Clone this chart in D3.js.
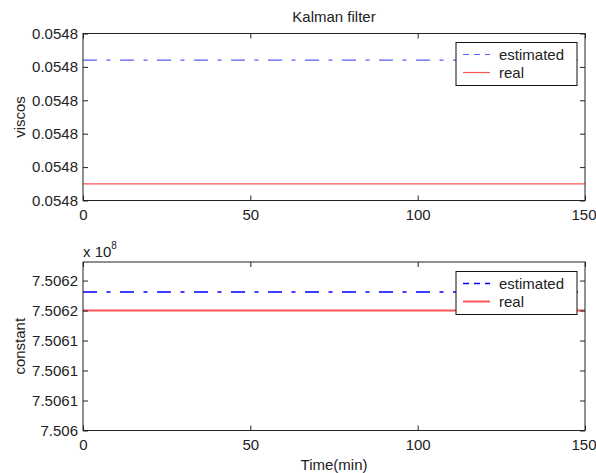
<!DOCTYPE html>
<html>
<head>
<meta charset="utf-8">
<script src="https://cdn.jsdelivr.net/npm/d3@7/dist/d3.min.js"></script>
<style>
  html, body { margin: 0; padding: 0; background: #fff; }
  svg { display: block; font-family: "Liberation Sans", Arial, sans-serif; }
</style>
</head>
<body>
<svg id="chart" width="596" height="473"></svg>
<script>
// Time axis (minutes)
const timeRange = [0, 150];
const timeTicks = [0, 50, 100, 150];

// Viscosity panel
const viscosTicks = [0.054800, 0.054802, 0.054804, 0.054806, 0.054808, 0.054810];
const viscosTickLabels = ["0.0548", "0.0548", "0.0548", "0.0548", "0.0548", "0.0548"];
const viscosDomain = [0.054800, 0.054810];
const viscosEstimated = [0.0548084, 0.0548084];
const viscosReal = [0.0548010, 0.0548010];

// Constant panel (values in units of 1e8)
const constTicks = [7.50603, 7.506062, 7.506094, 7.506126, 7.506158, 7.50619];
const constTickLabels = ["7.506", "7.5061", "7.5061", "7.5061", "7.5062", "7.5062"];
const constDomain = [7.50603, 7.5062098];
const constEstimated = [7.5061778, 7.5061778];
const constReal = [7.506158, 7.506158];

const legendLabels = ["estimated", "real"];

const FS = 15;
const TXT = "#222";
const svg = d3.select("#chart");
const left = 83, right = 585;
const x = d3.scaleLinear().domain(timeRange).range([left, right]);

function panel(cfg) {
  const y = d3.scaleLinear().domain(cfg.domain).range([cfg.bottom, cfg.top]);
  const g = svg.append("g");

  // estimated & real lines
  const line = d3.line().x(d => x(d[0])).y(d => y(d[1]));
  g.append("path")
    .datum(timeRange.map((t, i) => [t, cfg.est[i]]))
    .attr("d", line).attr("fill", "none")
    .attr("stroke", cfg.blue).attr("stroke-width", cfg.blueW)
    .attr("stroke-dasharray", "14,9.5,4,9.5");
  g.append("path")
    .datum(timeRange.map((t, i) => [t, cfg.real[i]]))
    .attr("d", line).attr("fill", "none")
    .attr("stroke", "#ff5555").attr("stroke-width", cfg.redW);

  // axes: inward ticks on all four sides
  const axColor = "#222";
  const bottomAxis = g.append("g").attr("transform", `translate(0,${cfg.bottom})`)
    .call(d3.axisBottom(x).tickValues(timeTicks).tickSizeInner(-5).tickSizeOuter(0)
      .tickPadding(7).tickFormat(d3.format("d")));
  bottomAxis.selectAll("text").attr("dy", "0.85em")
    .attr("dx", d => d === timeTicks[timeTicks.length - 1] ? -1.5 : 0);
  const topAxis = g.append("g").attr("transform", `translate(0,${cfg.top})`)
    .call(d3.axisTop(x).tickValues(timeTicks).tickSizeInner(-5).tickSizeOuter(0).tickFormat(""));
  const leftAxis = g.append("g").attr("transform", `translate(${left},0)`)
    .call(d3.axisLeft(y).tickValues(cfg.ticks).tickSizeInner(-5).tickSizeOuter(0)
      .tickPadding(5).tickFormat((d, i) => cfg.labels[i]));
  const rightAxis = g.append("g").attr("transform", `translate(${right},0)`)
    .call(d3.axisRight(y).tickValues(cfg.ticks).tickSizeInner(-5).tickSizeOuter(0).tickFormat(""));
  [bottomAxis, topAxis, leftAxis, rightAxis].forEach(a => {
    a.select(".domain").remove();
    a.selectAll("line").attr("stroke", axColor);
    a.selectAll("text").attr("font-size", FS).attr("fill", TXT)
      .attr("font-family", "\"Liberation Sans\", Arial, sans-serif");
  });
  g.append("rect").attr("x", left).attr("y", cfg.top)
    .attr("width", right - left).attr("height", cfg.bottom - cfg.top)
    .attr("fill", "none").attr("stroke", axColor).attr("stroke-width", 1);

  // y label
  g.append("text")
    .attr("transform", `translate(25,${(cfg.top + cfg.bottom) / 2}) rotate(-90)`)
    .attr("text-anchor", "middle").attr("font-size", FS).attr("fill", TXT)
    .text(cfg.ylabel);

  // legend
  const lx = 456, lw = 121, ly = cfg.legendTop, lh = 43;
  const lg = g.append("g");
  lg.append("rect").attr("x", lx).attr("y", ly).attr("width", lw).attr("height", lh)
    .attr("fill", "#fff").attr("stroke", "#111").attr("stroke-width", 1);
  const rows = [
    { label: legendLabels[0], color: cfg.blue, dash: "6,5", w: cfg.blueW },
    { label: legendLabels[1], color: "#ff5555", dash: null, w: cfg.redW }
  ];
  rows.forEach((r, i) => {
    const cy = ly + 12 + i * 18;
    lg.append("line").attr("x1", lx + 7).attr("x2", lx + 34)
      .attr("y1", cy).attr("y2", cy)
      .attr("stroke", r.color).attr("stroke-width", r.w)
      .attr("stroke-dasharray", r.dash);
    lg.append("text").attr("x", lx + 43).attr("y", cy).attr("dy", "0.35em")
      .attr("font-size", FS).attr("fill", TXT).text(r.label);
  });
  return y;
}

panel({ top: 33.5, bottom: 200.5, domain: viscosDomain, ticks: viscosTicks,
  labels: viscosTickLabels, est: viscosEstimated, real: viscosReal,
  ylabel: "viscos", legendTop: 42.5, blue: "#5b5bff", blueW: 1.2, redW: 1.2 });

panel({ top: 262, bottom: 430.5, domain: constDomain, ticks: constTicks,
  labels: constTickLabels, est: constEstimated, real: constReal,
  ylabel: "constant", legendTop: 271.5, blue: "#0000ff", blueW: 1.3, redW: 2 });

// title, exponent, x label
svg.append("text").attr("x", (left + right) / 2).attr("y", 22)
  .attr("text-anchor", "middle").attr("font-size", FS).attr("fill", TXT)
  .text("Kalman filter");
const ex = svg.append("text").attr("x", 83).attr("y", 257).attr("font-size", FS).attr("fill", TXT);
ex.append("tspan").text("x 10");
ex.append("tspan").attr("dy", -8).attr("font-size", 10).text("8");
svg.append("text").attr("x", (left + right) / 2).attr("y", 470)
  .attr("text-anchor", "middle").attr("font-size", FS).attr("fill", TXT)
  .text("Time(min)");
</script>
</body>
</html>
